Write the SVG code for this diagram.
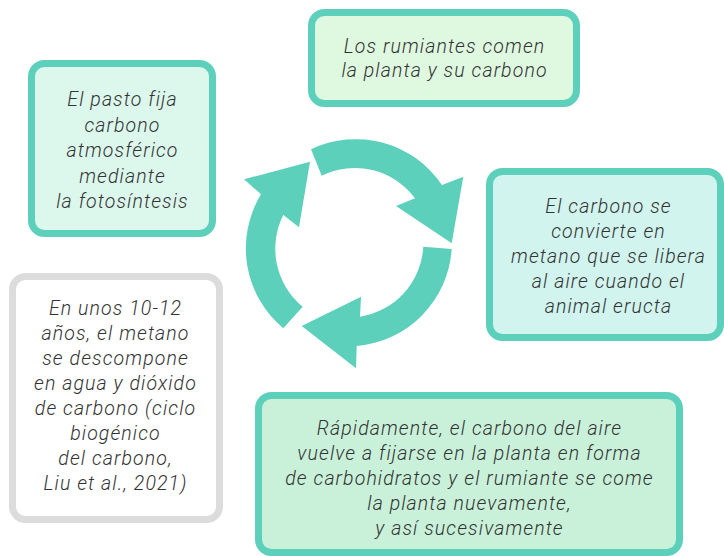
<svg xmlns="http://www.w3.org/2000/svg" width="724" height="556" viewBox="0 0 724 556">
<style>
.box{stroke:#5dd0bb;stroke-width:7}
.grey{stroke:#dcdcdc;stroke-width:7;fill:#ffffff}
text{font-family:Roboto,"Liberation Sans",sans-serif;font-style:italic;font-weight:300;font-size:19.5px;letter-spacing:1.1px;fill:#333333;text-anchor:middle}
.arrow{fill:#5dd0bb}
</style>
<rect width="724" height="556" fill="#ffffff"/>
<g id="cycle">
<path class="arrow" d="M311,149.3 A104,104 0 0 1 442,185 L463.3,176.7 L451.7,243.3 L396,206 L415,198.3 A75,75 0 0 0 321.7,175.7 Z"/>
<path class="arrow" d="M451.7,249 A104,104 0 0 1 356.7,346 L356,368.3 L301.7,326 L361,296.7 L360,316.7 A75,75 0 0 0 423.3,246.7 Z"/>
<path class="arrow" d="M302.7,306.7 A75,75 0 0 1 283.3,215 L299,227.3 L310,161.7 L244,179.3 L261,194.3 A104,104 0 0 0 283.3,328.3 Z"/>
</g>
<g id="n1">
<rect class="box" x="31.5" y="63.5" width="181" height="170" rx="13" fill="#dcf7ec"/>
<text x="122.5" y="106">El pasto fija</text>
<text x="122.5" y="131.5">carbono</text>
<text x="122.5" y="157">atmosférico</text>
<text x="122.5" y="182.5">mediante</text>
<text x="122.5" y="208">la fotosíntesis</text>
</g>
<g id="n2">
<rect class="box" x="311.5" y="12.5" width="265" height="91" rx="13" fill="#dff9e0"/>
<text x="444.5" y="53">Los rumiantes comen</text>
<text x="444.5" y="77">la planta y su carbono</text>
</g>
<g id="n3">
<rect class="box" x="489.5" y="171.5" width="231" height="166" rx="13" fill="#d1f4ee"/>
<text x="608.5" y="213">El carbono se</text>
<text x="608.5" y="238">convierte en</text>
<text x="608.5" y="263">metano que se libera</text>
<text x="608.5" y="288">al aire cuando el</text>
<text x="608.5" y="313">animal eructa</text>
</g>
<g id="n4">
<rect class="grey" x="12.5" y="276.5" width="207" height="243" rx="13"/>
<text x="115.5" y="315">En unos 10-12</text>
<text x="115.5" y="340">años, el metano</text>
<text x="115.5" y="365">se descompone</text>
<text x="115.5" y="390">en agua y dióxido</text>
<text x="115.5" y="415">de carbono (ciclo</text>
<text x="115.5" y="440">biogénico</text>
<text x="115.5" y="464.5">del carbono,</text>
<text x="115.5" y="490">Liu et al., 2021)</text>
</g>
<g id="n5">
<rect class="box" x="258.5" y="395.5" width="421" height="157" rx="13" fill="#c9f1da"/>
<text x="469.5" y="435">Rápidamente, el carbono del aire</text>
<text x="469.5" y="460">vuelve a fijarse en la planta en forma</text>
<text x="469.5" y="485">de carbohidratos y el rumiante se come</text>
<text x="469.5" y="510">la planta nuevamente,</text>
<text x="469.5" y="535">y así sucesivamente</text>
</g>
</svg>
